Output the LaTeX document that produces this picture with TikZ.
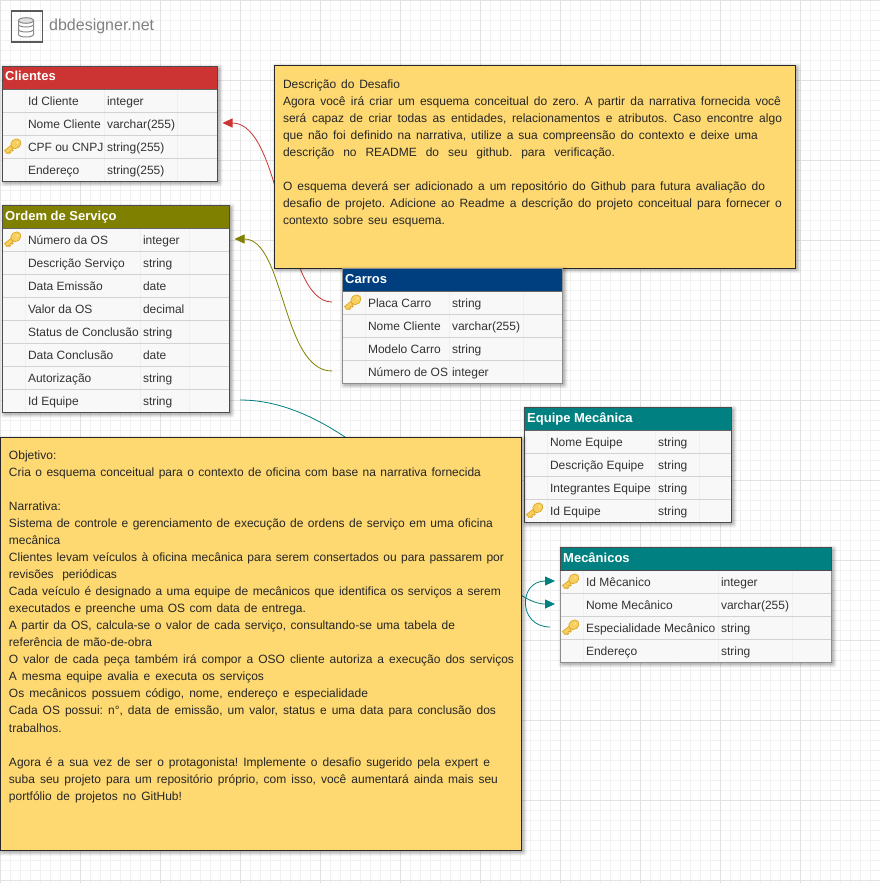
\documentclass[tikz,border=0pt]{standalone}
\usepackage{fontspec}
\setmainfont{Liberation Sans}
\usetikzlibrary{arrows.meta,calc}
\pgfdeclarelayer{bg}
\pgfdeclarelayer{links}
\pgfsetlayers{bg,links,main}
\definecolor{gridminor}{HTML}{F1F1F1}
\definecolor{gridmajor}{HTML}{E2E2E2}
\definecolor{notefill}{HTML}{FED971}
\definecolor{rowfill}{HTML}{F8F8F8}
\definecolor{rowline}{HTML}{D2D2D2}
\definecolor{colline}{HTML}{F0F0F0}
\definecolor{rowtext}{HTML}{333333}
\definecolor{hred}{HTML}{CC3333}
\definecolor{holive}{HTML}{808000}
\definecolor{hblue}{HTML}{003F7F}
\definecolor{hteal}{HTML}{008080}
\definecolor{keyfill}{HTML}{F6CF5E}
\definecolor{keyedge}{HTML}{D9A21E}
\definecolor{logoc}{HTML}{8A8A8A}
\tikzset{
  x=1pt,y=-1pt,
  hdr/.style={fill=#1,draw=none,anchor=north west,inner sep=0pt,outer sep=0pt},
  rowbox/.style={fill=rowfill,draw=none,anchor=north west,inner sep=0pt,outer sep=0pt},
  celltext/.style={text=rowtext,font=\fontsize{12}{12}\selectfont,anchor=base west,inner sep=0pt,outer sep=0pt},
  notebox/.style={fill=notefill,draw=black!85,line width=1pt,anchor=north west,inner sep=0pt,outer sep=0pt},
  notetext/.style={text=black!85,font=\fontsize{12}{17.05}\selectfont\frenchspacing,anchor=north west,inner sep=0pt,outer sep=0pt,align=left},
  conn/.style={draw=#1,line width=0.8pt,-{Triangle[length=10pt,width=9pt,fill=#1]}},
}
\newcommand{\softshadow}[4]{%
  \foreach \d/\o in {5/0.05,4/0.06,3/0.08,2/0.10}{
    \fill[black,opacity=\o,rounded corners=1.5pt] (#1+3-\d,#2+3-\d) rectangle (#3+\d,#4+\d);
  }}
\newcommand{\keyicon}[2]{%
  \begin{scope}[shift={(#1,#2)},rotate=38]
    \fill[keyfill,draw=keyedge,line width=0.6pt]
      (0,-1.7) -- (-9.5,-1.7) -- (-9.5,2.2) -- (-7.8,2.2) -- (-7.8,3.8) -- (-5.8,3.8) -- (-5.8,2.2) -- (-4,2.2) -- (-4,3.6) -- (-2.4,3.6) -- (-2.4,1.7) -- (0,1.7) -- cycle;
    \fill[keyfill,draw=keyedge,line width=0.6pt] (3.6,0) ellipse (5.4 and 4.6);
    \fill[white,opacity=.6] (5.6,0) circle (1.1);
  \end{scope}}
\newcommand{\setcols}[2]{\xdef\tA{#1}\xdef\tC{#2}}
% #1 name, #2 left, #3 top, #4 width, #5 height, #6 header colour, #7 title, #8 border colour
\newcommand{\tablebox}[8]{%
  \softshadow{#2}{#3}{#2+#4}{#3+#5}
  \node[hdr=#6,minimum width=#4 pt,minimum height=23pt] (#1) at (#2,#3) {};
  \node[text=white,font=\fontsize{13}{13}\selectfont\bfseries,anchor=base west,inner sep=0pt] (#1-title) at (#2+2.5,#3+14.5) {#7};
  \xdef\tL{#2}\xdef\tT{#3}\xdef\tW{#4}\xdef\tN{#1}\xdef\tB{#8}\xdef\tH{#5}%
}
% #1 row index, #2 key 0/1, #3 name, #4 type
\newcommand{\rowitem}[4]{%
  \node[rowbox,minimum width=\tW pt,minimum height=23pt] (\tN-#1) at (\tL,\tT+#1*23) {};
  \draw[rowline,line width=1.4pt] (\tL,\tT+#1*23+22.7) -- (\tL+\tW,\tT+#1*23+22.7);
  \draw[colline,line width=.6pt] (\tL+23,\tT+#1*23) -- (\tL+23,\tT+#1*23+22);
  \draw[colline,line width=.6pt] (\tL+\tA-3,\tT+#1*23) -- (\tL+\tA-3,\tT+#1*23+22);
  \draw[colline,line width=.6pt] (\tL+\tC,\tT+#1*23) -- (\tL+\tC,\tT+#1*23+22);
  \ifnum#2=1 \keyicon{\tL+10.5}{\tT+#1*23+10.5}\fi
  \node[celltext] (\tN-#1-name) at (\tL+25.5,\tT+#1*23+16) {#3};
  \node[celltext] (\tN-#1-type) at (\tL+\tA,\tT+#1*23+16) {#4};
}
\newcommand{\tableframe}{%
  \draw[black!60,line width=.7pt] (\tL,\tT+23) -- (\tL+\tW,\tT+23);
  \draw[\tB,line width=1pt] (\tL,\tT) rectangle (\tL+\tW,\tT+\tH);
}
\newcommand{\jl}[2]{\makebox[#1pt][s]{#2}\\}
\begin{document}
\begin{tikzpicture}
\useasboundingbox (0,0) rectangle (880,883);
\begin{pgfonlayer}{bg}
\fill[white] (0,0) rectangle (880,883);
\foreach \i in {0,...,88}{\draw[gridminor,line width=.9pt] (\i*10,0) -- (\i*10,883);}
\foreach \i in {0,...,88}{\draw[gridminor,line width=.9pt] (0,\i*10) -- (880,\i*10);}
\foreach \i in {0,...,11}{\draw[gridmajor,line width=.9pt] (\i*80,0) -- (\i*80,883);}
\foreach \i in {0,...,11}{\draw[gridmajor,line width=.9pt] (0,\i*80) -- (880,\i*80);}
\end{pgfonlayer}
% logo
\node[draw=black!65,line width=1.1pt,minimum width=31pt,minimum height=31pt,inner sep=0pt,anchor=north west] (logo) at (10.5,10.5) {};
\begin{scope}[shift={(26,26)}]
  \foreach \yy in {8.5,3.5,-1.5}{
    \draw[logoc,line width=1pt,fill=white] (-7.5,\yy-4) -- (-7.5,\yy) arc[start angle=180,end angle=360,x radius=7.5,y radius=-2.5] -- (7.5,\yy-4);
  }
  \fill[black!12,draw=logoc,line width=1pt] (0,-5.5) ellipse (7.5 and 2.8);
\end{scope}
\node[text=black!50,font=\fontsize{16}{16}\selectfont,anchor=base west,inner sep=0pt] (brand) at (49,31) {dbdesigner.net};

% Clientes
\setcols{104.5}{174.5}
\tablebox{cli}{2.5}{66.5}{215}{115}{hred}{Clientes}{black!70}
\rowitem{1}{0}{Id Cliente}{integer}
\rowitem{2}{0}{Nome Cliente}{varchar(255)}
\rowitem{3}{1}{CPF ou CNPJ}{string(255)}
\rowitem{4}{0}{Endereço}{string(255)}
\tableframe

% Ordem de Serviço
\setcols{140.5}{186.5}
\tablebox{ord}{2.5}{205.5}{227}{207}{holive}{Ordem de Serviço}{black!70}
\rowitem{1}{1}{Número da OS}{integer}
\rowitem{2}{0}{Descrição Serviço}{string}
\rowitem{3}{0}{Data Emissão}{date}
\rowitem{4}{0}{Valor da OS}{decimal}
\rowitem{5}{0}{Status de Conclusão}{string}
\rowitem{6}{0}{Data Conclusão}{date}
\rowitem{7}{0}{Autorização}{string}
\rowitem{8}{0}{Id Equipe}{string}
\tableframe

% Upper note
\softshadow{274.5}{65.5}{795.5}{268}
\node[notebox,minimum width=521pt,minimum height=202.5pt] (desc) at (274.5,65.5) {};
\node[notetext] (desctext) at (283,79.5) {%
\jl{117}{Descrição do Desafio}
\jl{498}{Agora você irá criar um esquema conceitual do zero. A partir da narrativa fornecida você}
\jl{499}{será capaz de criar todas as entidades, relacionamentos e atributos. Caso encontre algo}
\jl{475}{que não foi definido na narrativa, utilize a sua compreensão do contexto e deixe uma}
\jl{332}{descrição no README do seu github. para verificação.}
\mbox{}\\
\jl{482}{O esquema deverá ser adicionado a um repositório do Github para futura avaliação do}
\jl{499}{desafio de projeto. Adicione ao Readme a descrição do projeto conceitual para fornecer o}
\makebox[162pt][s]{contexto sobre seu esquema.}};

% Carros
\setcols{109.5}{180.5}
\tablebox{car}{342.5}{268.5}{220}{115}{hblue}{Carros}{black!45}
\rowitem{1}{1}{Placa Carro}{string}
\rowitem{2}{0}{Nome Cliente}{varchar(255)}
\rowitem{3}{0}{Modelo Carro}{string}
\rowitem{4}{0}{Número de OS}{integer}
\tableframe

% Equipe Mecânica
\setcols{133.5}{175}
\tablebox{equ}{524.5}{407.5}{207}{115}{hteal}{Equipe Mecânica}{black!70}
\rowitem{1}{0}{Nome Equipe}{string}
\rowitem{2}{0}{Descrição Equipe}{string}
\rowitem{3}{0}{Integrantes Equipe}{string}
\rowitem{4}{1}{Id Equipe}{string}
\tableframe

% Mecânicos
\setcols{160.5}{231.5}
\tablebox{mec}{560.5}{547.5}{271}{115}{hteal}{Mecânicos}{black!45}
\rowitem{1}{1}{Id Mêcanico}{integer}
\rowitem{2}{0}{Nome Mecânico}{varchar(255)}
\rowitem{3}{1}{Especialidade Mecânico}{string}
\rowitem{4}{0}{Endereço}{string}
\tableframe
\draw[black!70,line width=1pt] (mec.south west) rectangle (mec.north east);

% Lower note
\softshadow{0.5}{437.5}{521.5}{850.5}
\node[notebox,minimum width=521pt,minimum height=413pt] (obj) at (0.5,437.5) {};
\node[notetext] (objtext) at (9,450.5) {%
\jl{46}{Objetivo:}
\jl{472}{Cria o esquema conceitual para o contexto de oficina com base na narrativa fornecida}
\mbox{}\\
\jl{51}{Narrativa:}
\jl{484}{Sistema de controle e gerenciamento de execução de ordens de serviço em uma oficina}
\jl{50}{mecânica}
\jl{495}{Clientes levam veículos à oficina mecânica para serem consertados ou para passarem por}
\jl{108}{revisões periódicas}
\jl{492}{Cada veículo é designado a uma equipe de mecânicos que identifica os serviços a serem}
\jl{297}{executados e preenche uma OS com data de entrega.}
\jl{446}{A partir da OS, calcula-se o valor de cada serviço, consultando-se uma tabela de}
\jl{143}{referência de mão-de-obra}
\jl{505}{O valor de cada peça também irá compor a OSO cliente autoriza a execução dos serviços}
\jl{255}{A mesma equipe avalia e executa os serviços}
\jl{359}{Os mecânicos possuem código, nome, endereço e especialidade}
\jl{487}{Cada OS possui: n°, data de emissão, um valor, status e uma data para conclusão dos}
\jl{53}{trabalhos.}
\mbox{}\\
\jl{481}{Agora é a sua vez de ser o protagonista! Implemente o desafio sugerido pela expert e}
\jl{489}{suba seu projeto para um repositório próprio, com isso, você aumentará ainda mais seu}
\makebox[173pt][s]{portfólio de projetos no GitHub!}};

% Connectors, under the notes
\begin{pgfonlayer}{links}
\draw[conn=hred] ([xshift=-10.5pt,yshift=1pt]car-1.west) .. controls +(-50,0) and +(60.5,0) .. ([xshift=5pt,yshift=1pt]cli-2.east);
\draw[conn=holive] ([xshift=-10.5pt,yshift=1pt]car-4.west) .. controls +(-50,0) and +(50,0) .. ([xshift=5pt,yshift=1pt]ord-1.east);
\draw[conn=hteal] ([xshift=10.5pt,yshift=1pt]ord-8.east) .. controls +(136,0) and +(-67,0) .. ([xshift=-5.5pt,yshift=1pt]mec-2.west);
\draw[conn=hteal] ([xshift=-10.5pt,yshift=1pt]mec-3.west) .. controls +(-32,0) and +(-37,0) .. ([xshift=-5.5pt,yshift=1pt]mec-1.west);
\end{pgfonlayer}
\end{tikzpicture}
\end{document}
